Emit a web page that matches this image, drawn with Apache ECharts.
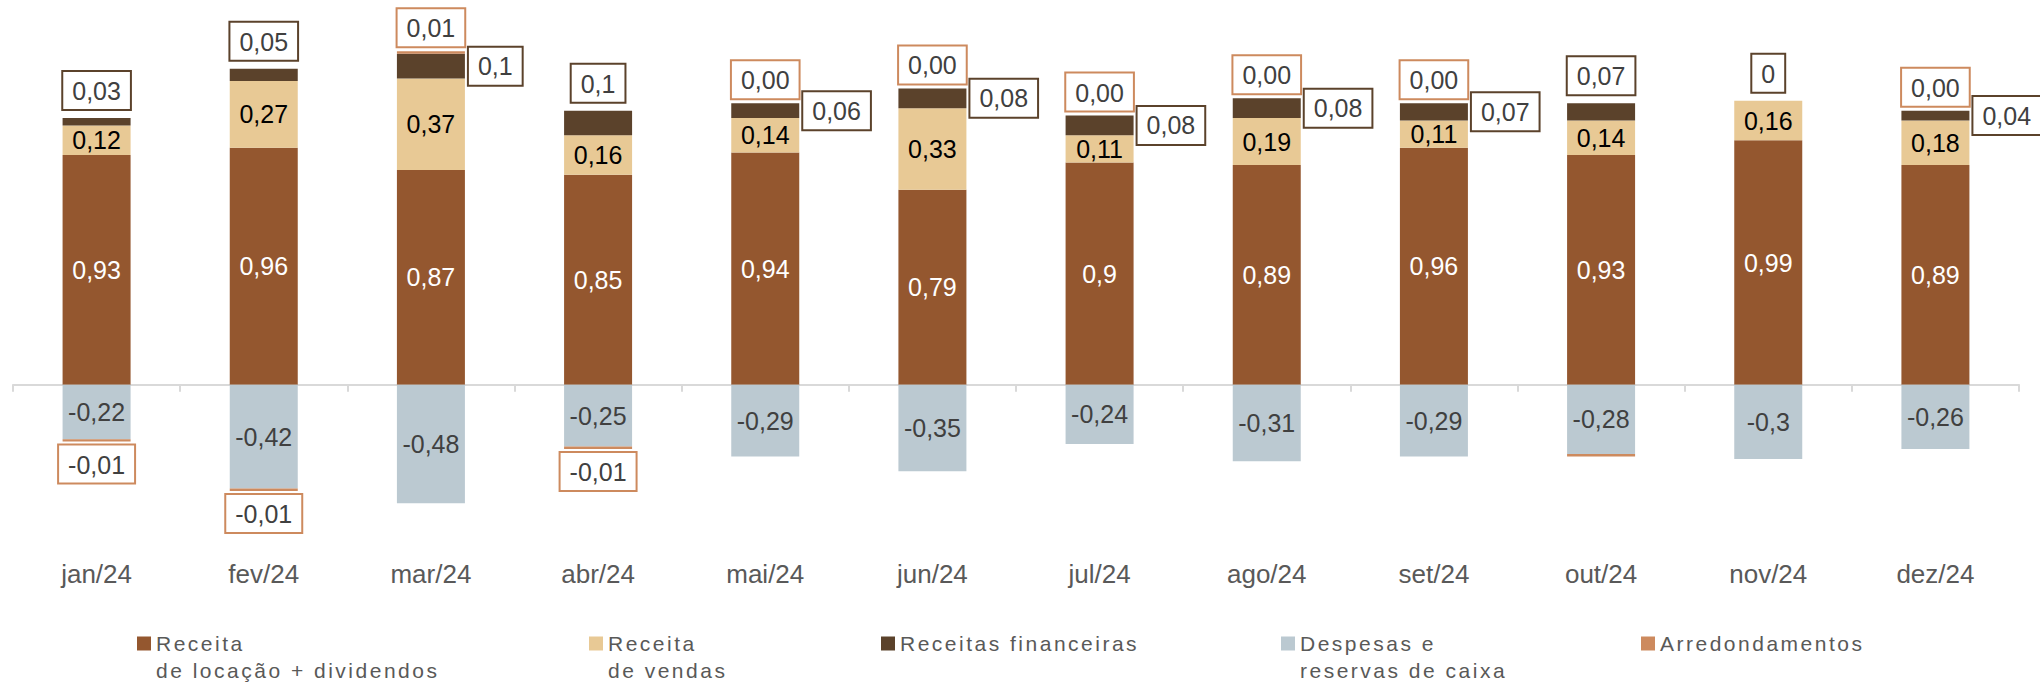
<!DOCTYPE html>
<html>
<head>
<meta charset="utf-8">
<script src="https://cdn.jsdelivr.net/npm/echarts@6/dist/echarts.min.js"></script>
<style>
  html, body { margin: 0; padding: 0; background: #ffffff; }
  #chart { width: 2040px; height: 685px; }
  /* legend captions are set slightly tracked out */
  #chart text[fill="#595958"] { letter-spacing: 2.5px; }
</style>
</head>
<body>
<div id="chart"></div>
<script>
// Monthly breakdown (R$ per unit)
const meses = ['jan/24', 'fev/24', 'mar/24', 'abr/24', 'mai/24', 'jun/24',
               'jul/24', 'ago/24', 'set/24', 'out/24', 'nov/24', 'dez/24'];
const receitaLocacao      = [0.93, 0.96, 0.87, 0.85, 0.94, 0.79, 0.9, 0.89, 0.96, 0.93, 0.99, 0.89];
const receitaVendas       = [0.12, 0.27, 0.37, 0.16, 0.14, 0.33, 0.11, 0.19, 0.11, 0.14, 0.16, 0.18];
const receitasFinanceiras = [0.03, 0.05, 0.1, 0.1, 0.06, 0.08, 0.08, 0.08, 0.07, 0.07, 0, 0.04];
const despesasReservas    = [-0.22, -0.42, -0.48, -0.25, -0.29, -0.35, -0.24, -0.31, -0.29, -0.28, -0.3, -0.26];
const arredondamentos     = [-0.01, -0.01, 0.01, -0.01, 0.00, 0.00, 0.00, 0.00, 0.00, -0.01, null, 0.00];

// where each "Receitas financeiras" value box sits
const posFinanceiras = ['top', 'top', 'right', 'top', 'right', 'right', 'right', 'right', 'right', 'top', 'top', 'right'];
// months whose rounding value has no caption
const arredSemRotulo = [9];

const nomes = ['Receita de locação + dividendos', 'Receita de vendas', 'Receitas financeiras',
               'Despesas e reservas de caixa', 'Arredondamentos'];
// legend captions; two-line captions start with an empty line so the swatch sits beside the first line
const legendas = ['\nReceita\nde locação + dividendos', '\nReceita\nde vendas', 'Receitas financeiras',
                  '\nDespesas e\nreservas de caixa', 'Arredondamentos'];

const FONT = "'Liberation Sans', Arial, Helvetica, sans-serif";
const COR = {
  locacao: '#94572F',
  vendas: '#E8C995',
  financeiras: '#5B422B',
  despesas: '#BBC9D1',
  arred: '#CD8A5E'
};

const fmt = v => String(v).replace('.', ',');
const fmt2 = v => Number(v).toFixed(2).replace('.', ',');

function caixa(cor) {
  return {
    show: true,
    color: '#404040',
    fontSize: 25,
    fontFamily: FONT,
    backgroundColor: '#ffffff',
    borderColor: cor,
    borderWidth: 2,
    padding: [5, 9, 4, 9],
    lineHeight: 28
  };
}

const serieLocacao = {
  name: nomes[0], type: 'bar', stack: 'total', barWidth: 68,
  data: receitaLocacao,
  itemStyle: { color: COR.locacao },
  label: { show: true, position: 'inside', color: '#ffffff', fontSize: 25, fontFamily: FONT,
           formatter: p => fmt(p.value) }
};

const serieVendas = {
  name: nomes[1], type: 'bar', stack: 'total', barWidth: 68,
  data: receitaVendas,
  itemStyle: { color: COR.vendas },
  label: { show: true, position: 'inside', color: '#000000', fontSize: 25, fontFamily: FONT,
           formatter: p => fmt(p.value) }
};

const serieFinanceiras = {
  name: nomes[2], type: 'bar', stack: 'total', barWidth: 68,
  data: receitasFinanceiras.map((v, i) => ({
    value: v,
    label: { position: posFinanceiras[i], distance: posFinanceiras[i] === 'right' ? 4 : 9 }
  })),
  itemStyle: { color: COR.financeiras },
  label: Object.assign(caixa(COR.financeiras), { formatter: p => fmt(p.value) })
};

// rounding values above zero stack on the revenues, those below on the expenses
const serieArredPos = {
  name: nomes[4], type: 'bar', stack: 'total', barWidth: 68,
  data: arredondamentos.map(v => (v !== null && v >= 0) ? v : '-'),
  itemStyle: { color: COR.arred },
  label: Object.assign(caixa(COR.arred), { position: 'top', distance: 5, formatter: p => fmt2(p.value) })
};

const serieDespesas = {
  name: nomes[3], type: 'bar', stack: 'total', barWidth: 68,
  data: despesasReservas,
  itemStyle: { color: COR.despesas },
  label: { show: true, position: 'inside', color: '#404040', fontSize: 25, fontFamily: FONT,
           formatter: p => fmt(p.value) }
};

const serieArredNeg = {
  name: nomes[4], type: 'bar', stack: 'total', barWidth: 68,
  data: arredondamentos.map((v, i) => (v !== null && v < 0)
    ? { value: v, label: { show: arredSemRotulo.indexOf(i) < 0 } } : '-'),
  itemStyle: { color: COR.arred },
  label: Object.assign(caixa(COR.arred), { position: 'bottom', distance: 4, formatter: p => fmt2(p.value) })
};

const legendaX = [137, 589, 881, 1281, 1641];

const option = {
  animation: false,
  backgroundColor: '#ffffff',
  grid: { left: 13, right: 21, top: 39, bottom: 152, containLabel: false, outerBoundsMode: 'none' },
  xAxis: [
    {
      // baseline through zero with ticks between months
      type: 'category',
      data: meses,
      position: 'bottom',
      axisLine: { show: true, onZero: true, lineStyle: { color: '#D9D9D9', width: 2 } },
      axisTick: { show: true, length: 7, lineStyle: { color: '#D9D9D9', width: 2 } },
      axisLabel: { show: false },
      splitLine: { show: false }
    },
    {
      // month names along the bottom
      type: 'category',
      data: meses,
      position: 'bottom',
      axisLine: { show: false, onZero: false },
      axisTick: { show: false },
      axisLabel: { margin: 28, fontSize: 26, color: '#595959', fontFamily: FONT },
      splitLine: { show: false }
    }
  ],
  yAxis: {
    type: 'value', min: -0.6, max: 1.4, show: false,
    splitLine: { show: false }
  },
  legend: nomes.map((n, i) => {
    const duasLinhas = legendas[i].indexOf('\n') >= 0;
    return {
      data: [n],
      left: legendaX[i],
      top: duasLinhas ? 603 : 630,
      padding: 0,
      icon: 'rect',
      itemWidth: 14,
      itemHeight: 14,
      selectedMode: false,
      formatter: () => legendas[i],
      textStyle: { fontSize: 21, lineHeight: 27, color: '#595958', fontFamily: FONT }
    };
  }),
  series: [serieLocacao, serieVendas, serieFinanceiras, serieArredPos, serieDespesas, serieArredNeg]
};

const chart = echarts.init(document.getElementById('chart'), null, { renderer: 'svg' });
chart.setOption(option);
</script>
</body>
</html>
